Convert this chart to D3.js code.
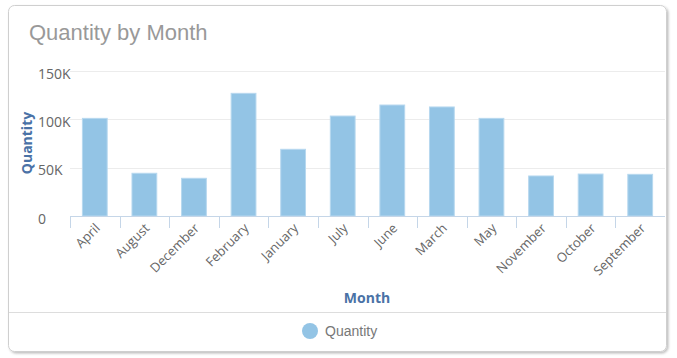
<!DOCTYPE html>
<html><head><meta charset="utf-8">
<script src="https://cdnjs.cloudflare.com/ajax/libs/d3/7.8.5/d3.min.js"></script>
<style>
html,body{margin:0;padding:0;background:#fff;}
svg{display:block;}
</style></head>
<body>
<script>
const categories = ["April","August","December","February","January","July","June","March","May","November","October","September"];
const quantity = [101000,44200,39000,126900,69000,103400,114800,112800,101000,41400,43400,43100];
const yTicks = [0,50000,100000,150000];
const yTickLabels = ["0","50K","100K","150K"];
const seriesName = "Quantity";

const W=677,H=358;
const svg=d3.select("body").append("svg").attr("width",W).attr("height",H);
const defs=svg.append("defs");
const f=defs.append("filter").attr("id","sh").attr("x","-5%").attr("y","-5%").attr("width","110%").attr("height","110%");
f.append("feDropShadow").attr("dx",1.5).attr("dy",1.5).attr("stdDeviation",1.2).attr("flood-color","#000").attr("flood-opacity",0.25);
svg.append("rect").attr("x",8.5).attr("y",5.5).attr("width",658).attr("height",346).attr("rx",6)
  .attr("fill","#fff").attr("stroke","#cfcfcf").attr("filter","url(#sh)");

svg.append("text").attr("x",29).attr("y",40).text("Quantity by Month")
  .attr("font-family","Liberation Sans, Arial, sans-serif").attr("font-size",22).attr("fill","#999");

const x=d3.scaleBand().domain(categories).range([70,665]).paddingInner(0.5).paddingOuter(0.25);
const y=d3.scaleLinear().domain([0,150000]).range([216,71]);

// gridlines
svg.append("g").selectAll("line").data(yTicks.slice(1)).join("line")
  .attr("x1",70).attr("x2",665).attr("y1",d=>Math.round(y(d))+0.5).attr("y2",d=>Math.round(y(d))+0.5)
  .attr("stroke","#ececec").attr("stroke-width",1);

// y labels
svg.append("g").selectAll("text").data(yTicks).join("text")
  .attr("x",38).attr("y",d=>y(d)+7.5).text((d,i)=>yTickLabels[i])
  .attr("font-family","Open Sans, sans-serif").attr("font-size",14).attr("fill","#666");

// bars
svg.append("g").selectAll("rect").data(categories).join("rect")
  .attr("x",d=>x(d)).attr("width",x.bandwidth())
  .attr("y",(d,i)=>y(quantity[i])).attr("height",(d,i)=>y(0)-y(quantity[i]))
  .attr("fill","#93c4e5").attr("stroke","#b7d8ef").attr("stroke-width",1);

// x axis
const xa=svg.append("g");
xa.append("line").attr("x1",70).attr("x2",665).attr("y1",216.5).attr("y2",216.5).attr("stroke","#c5d6e8");
const bounds=d3.range(categories.length).map(i=>70+i*(595/categories.length));
xa.selectAll("line.t").data(bounds).join("line").attr("class","t")
  .attr("x1",d=>Math.round(d)+0.5).attr("x2",d=>Math.round(d)+0.5).attr("y1",216).attr("y2",228)
  .attr("stroke","#c5d6e8");
xa.selectAll("text").data(categories).join("text")
  .attr("transform",d=>`translate(${x(d)+x.bandwidth()/2+6},${229}) rotate(-45)`)
  .attr("text-anchor","end").text(d=>d)
  .attr("font-family","Open Sans, sans-serif").attr("font-size",13).attr("fill","#666");

// axis titles
svg.append("text").attr("transform","translate(32,143) rotate(-90)").attr("text-anchor","middle")
  .text("Quantity").attr("font-family","Open Sans, sans-serif").attr("font-weight","bold").attr("font-size",14).attr("fill","#4a72a6");
svg.append("text").attr("x",367).attr("y",303).attr("text-anchor","middle")
  .text("Month").attr("font-family","Open Sans, sans-serif").attr("font-weight","bold").attr("font-size",14).attr("fill","#4a72a6");

// separator
svg.append("line").attr("x1",9).attr("x2",666).attr("y1",312.5).attr("y2",312.5).attr("stroke","#dddddd");

// legend
const lg=svg.append("g");
lg.append("circle").attr("cx",310).attr("cy",331).attr("r",8).attr("fill","#93c4e5");
lg.append("text").attr("x",325).attr("y",336).text(seriesName)
  .attr("font-family","Liberation Sans, Arial, sans-serif").attr("font-size",14).attr("fill","#777");
</script>
</body></html>
